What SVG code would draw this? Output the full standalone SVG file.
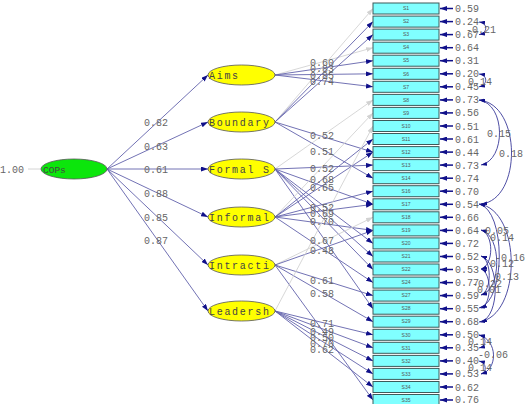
<svg xmlns="http://www.w3.org/2000/svg" width="529" height="404" viewBox="0 0 529 404">
<style>
.bg{fill:#fff}
.p{stroke:#6262ac;stroke-width:0.9;fill:none;marker-end:url(#ah)}
.g{stroke:#d2d2d2;stroke-width:0.9;fill:none;marker-end:url(#ahg)}
.e{stroke:#10108a;stroke-width:1.5;fill:none;marker-end:url(#ahe)}
.c{stroke:#3a3a9a;stroke-width:0.9;fill:none;marker-start:url(#ahc);marker-end:url(#ahc)}
.num{font-family:"Liberation Mono",monospace;font-size:10px;fill:#666}
.lat{fill:#ffff00;stroke:#555;stroke-width:0.8}
.cop{fill:#0ce60c;stroke:#555;stroke-width:0.8}
.lt{font-family:"Liberation Mono",monospace;font-size:10px;fill:#444;letter-spacing:1.7px}
.box{fill:#80ffff;stroke:#3d5a5a;stroke-width:1}
.bt{font-family:"Liberation Sans",sans-serif;font-size:5px;fill:#555;text-anchor:middle}
</style>
<defs>
<marker id="ah" markerUnits="userSpaceOnUse" markerWidth="7" markerHeight="5" refX="7" refY="2.5" orient="auto"><path d="M0,0 L7,2.5 L0,5 z" fill="#10108a"/></marker>
<marker id="ahg" markerUnits="userSpaceOnUse" markerWidth="7" markerHeight="5" refX="7" refY="2.5" orient="auto"><path d="M0,0 L7,2.5 L0,5 z" fill="#d2d2d2"/></marker>
<marker id="ahe" markerUnits="userSpaceOnUse" markerWidth="7" markerHeight="5" refX="7" refY="2.5" orient="auto"><path d="M0,0 L7,2.5 L0,5 z" fill="#10108a"/></marker>
<marker id="ahc" markerUnits="userSpaceOnUse" markerWidth="6" markerHeight="4" refX="6" refY="2" orient="auto-start-reverse"><path d="M0,0 L6,2 L0,4 z" fill="#10108a"/></marker>
</defs>
<rect class="bg" x="0" y="0" width="529" height="404"/>
<g id="connectors">
<line x1="28" y1="169" x2="41" y2="169" stroke="#cfcfcf" stroke-width="0.9"/>
<path class="p" d="M107,169 L208,75"/>
<path class="p" d="M107,169 L208,122"/>
<path class="p" d="M107,169 L208,169"/>
<path class="p" d="M107,169 L208,217"/>
<path class="p" d="M107,169 L208,265"/>
<path class="p" d="M107,169 L208,311"/>
<path class="g" d="M275,75 L373,47.7"/>
<path class="p" d="M275,75 L373,60.7"/>
<path class="p" d="M275,75 L373,73.8"/>
<path class="p" d="M275,75 L373,86.8"/>
<path class="g" d="M275,122 L373,8.5"/>
<path class="p" d="M275,122 L373,21.6"/>
<path class="p" d="M275,122 L373,34.6"/>
<path class="p" d="M275,122 L373,152.1"/>
<path class="p" d="M275,122 L373,178.2"/>
<path class="g" d="M275,169 L373,99.9"/>
<path class="p" d="M275,169 L373,165.1"/>
<path class="p" d="M275,169 L373,204.3"/>
<path class="p" d="M275,169 L373,243.4"/>
<path class="p" d="M275,169 L373,256.5"/>
<path class="p" d="M275,169 L373,269.5"/>
<path class="p" d="M275,169 L373,308.7"/>
<path class="g" d="M275,217 L373,112.9"/>
<path class="p" d="M275,217 L373,139"/>
<path class="p" d="M275,217 L373,152.1"/>
<path class="p" d="M275,217 L373,191.2"/>
<path class="p" d="M275,217 L373,204.3"/>
<path class="p" d="M275,217 L373,230.4"/>
<path class="p" d="M275,217 L373,282.6"/>
<path class="g" d="M275,265 L373,217.3"/>
<path class="p" d="M275,265 L373,230.4"/>
<path class="p" d="M275,265 L373,295.6"/>
<path class="p" d="M275,265 L373,321.7"/>
<path class="p" d="M275,265 L373,400"/>
<path class="g" d="M275,311 L373,126"/>
<path class="p" d="M275,311 L373,334.8"/>
<path class="p" d="M275,311 L373,347.8"/>
<path class="p" d="M275,311 L373,360.9"/>
<path class="p" d="M275,311 L373,373.9"/>
<path class="p" d="M275,311 L373,387"/>
<path class="e" d="M453,8.5 H440"/><path class="e" d="M453,21.6 H440"/><path class="e" d="M453,34.6 H440"/><path class="e" d="M453,47.7 H440"/><path class="e" d="M453,60.7 H440"/><path class="e" d="M453,73.8 H440"/><path class="e" d="M453,86.8 H440"/><path class="e" d="M453,99.9 H440"/><path class="e" d="M453,112.9 H440"/><path class="e" d="M453,126 H440"/><path class="e" d="M453,139 H440"/><path class="e" d="M453,152.1 H440"/><path class="e" d="M453,165.1 H440"/><path class="e" d="M453,178.2 H440"/><path class="e" d="M453,191.2 H440"/><path class="e" d="M453,204.3 H440"/><path class="e" d="M453,217.3 H440"/><path class="e" d="M453,230.4 H440"/><path class="e" d="M453,243.4 H440"/><path class="e" d="M453,256.5 H440"/><path class="e" d="M453,269.5 H440"/><path class="e" d="M453,282.6 H440"/><path class="e" d="M453,295.6 H440"/><path class="e" d="M453,308.7 H440"/><path class="e" d="M453,321.7 H440"/><path class="e" d="M453,334.8 H440"/><path class="e" d="M453,347.8 H440"/><path class="e" d="M453,360.9 H440"/><path class="e" d="M453,373.9 H440"/><path class="e" d="M453,387 H440"/><path class="e" d="M453,400 H440"/>
<path class="c" d="M479,22 C488,23 488,33 479,34.6"/>
<path class="c" d="M479,74 C488,75 488,85 479,86.8"/>
<path class="c" d="M479,100 C506,104 506,160 481,165"/>
<path class="c" d="M479,100 C522,104 522,200 481,204"/>
<path class="c" d="M479,204 C506,210 506,302 479,308"/>
<path class="c" d="M479,204 C522,210 522,316 479,322"/>
<path class="c" d="M481,230 C494,234 494,265 481,269"/>
<path class="c" d="M481,230 C502,235 502,290 481,295"/>
<path class="c" d="M481,256 C492,260 492,291 481,295"/>
<path class="c" d="M481,256 C500,262 500,316 481,322"/>
<path class="c" d="M481,269 C492,273 492,304 481,308"/>
<path class="c" d="M479,335 C487,337 487,346 479,348"/>
<path class="c" d="M479,335 C498,340 498,370 481,374"/>
<path class="c" d="M479,361 C487,363 487,372 481,374"/>
</g>
<g id="labels" class="num">
<text x="0" y="172.5">1.00</text>
<text x="144" y="125.5">0.82</text>
<text x="144" y="149.5">0.63</text>
<text x="144" y="172.5">0.61</text>
<text x="144" y="196.5">0.88</text>
<text x="144" y="220.5">0.85</text>
<text x="144" y="243.5">0.87</text>
<text x="310" y="65.5">0.60</text>
<text x="310" y="72">0.83</text>
<text x="310" y="78.5">0.85</text>
<text x="310" y="84.5">0.74</text>
<text x="310" y="138.5">0.52</text>
<text x="310" y="154.5">0.51</text>
<text x="310" y="171.5">0.52</text>
<text x="310" y="182.5">0.68</text>
<text x="310" y="190.5">0.65</text>
<text x="310" y="210.5">0.52</text>
<text x="310" y="216.5">0.69</text>
<text x="310" y="224.5">0.70</text>
<text x="310" y="243.5">0.67</text>
<text x="310" y="253.5">0.48</text>
<text x="310" y="283.5">0.61</text>
<text x="310" y="296.5">0.58</text>
<text x="310" y="326.5">0.71</text>
<text x="310" y="335">0.49</text>
<text x="310" y="340.5">0.50</text>
<text x="310" y="346.5">0.70</text>
<text x="310" y="353">0.62</text>
<text x="455" y="12">0.59</text>
<text x="455" y="25.1">0.24</text>
<text x="455" y="38.1">0.67</text>
<text x="455" y="51.2">0.64</text>
<text x="455" y="64.2">0.31</text>
<text x="455" y="77.3">0.20</text>
<text x="455" y="90.3">0.45</text>
<text x="455" y="103.4">0.73</text>
<text x="455" y="116.4">0.56</text>
<text x="455" y="129.5">0.51</text>
<text x="455" y="142.5">0.61</text>
<text x="455" y="155.6">0.44</text>
<text x="455" y="168.6">0.73</text>
<text x="455" y="181.7">0.74</text>
<text x="455" y="194.7">0.70</text>
<text x="455" y="207.8">0.54</text>
<text x="455" y="220.8">0.66</text>
<text x="455" y="233.9">0.64</text>
<text x="455" y="246.9">0.72</text>
<text x="455" y="260">0.52</text>
<text x="455" y="273">0.53</text>
<text x="455" y="286.1">0.77</text>
<text x="455" y="299.1">0.59</text>
<text x="455" y="312.2">0.55</text>
<text x="455" y="325.2">0.68</text>
<text x="455" y="338.3">0.50</text>
<text x="455" y="351.3">0.35</text>
<text x="455" y="364.4">0.40</text>
<text x="455" y="377.4">0.53</text>
<text x="455" y="390.5">0.62</text>
<text x="455" y="403">0.76</text>
<text x="466" y="32.5">-0.21</text>
<text x="468" y="84.5">0.14</text>
<text x="487" y="136.5">0.15</text>
<text x="499" y="156.5">0.18</text>
<text x="485" y="233.5">0.05</text>
<text x="490" y="240.5">0.14</text>
<text x="495" y="260.5">-0.16</text>
<text x="490" y="266.5">0.12</text>
<text x="495" y="279.5">0.13</text>
<text x="472" y="286.5">-0.22</text>
<text x="477" y="292.5">0.01</text>
<text x="468" y="344.5">0.14</text>
<text x="478" y="357.5">-0.06</text>
<text x="468" y="370.5">0.14</text>
</g>
<g id="COPs"><ellipse class="cop" cx="74" cy="169" rx="33" ry="10"/><text x="43" y="172.5" class="lt" style="letter-spacing:0;font-size:9.5px">COPs</text></g>
<g id="Aims"><ellipse class="lat" cx="241.5" cy="75" rx="33.5" ry="10"/><text x="209" y="78.5" class="lt">Aims</text></g>
<g id="Boundary"><ellipse class="lat" cx="241.5" cy="122" rx="33.5" ry="10"/><text x="209" y="125.5" class="lt">Boundary</text></g>
<g id="FormalS"><ellipse class="lat" cx="241.5" cy="169" rx="33.5" ry="10"/><text x="209" y="172.5" class="lt">Formal S</text></g>
<g id="Informal"><ellipse class="lat" cx="241.5" cy="217" rx="33.5" ry="10"/><text x="209" y="220.5" class="lt">Informal</text></g>
<g id="Intracti"><ellipse class="lat" cx="241.5" cy="265" rx="33.5" ry="10"/><text x="209" y="268.5" class="lt">Intracti</text></g>
<g id="Leadersh"><ellipse class="lat" cx="241.5" cy="311" rx="33.5" ry="10"/><text x="209" y="314.5" class="lt">Leadersh</text></g>
<g id="S1"><rect class="box" x="373" y="3" width="66" height="11"/><text class="bt" x="406" y="10.2">S1</text></g>
<g id="S2"><rect class="box" x="373" y="16.1" width="66" height="11"/><text class="bt" x="406" y="23.3">S2</text></g>
<g id="S3"><rect class="box" x="373" y="29.1" width="66" height="11"/><text class="bt" x="406" y="36.3">S3</text></g>
<g id="S4"><rect class="box" x="373" y="42.2" width="66" height="11"/><text class="bt" x="406" y="49.4">S4</text></g>
<g id="S5"><rect class="box" x="373" y="55.2" width="66" height="11"/><text class="bt" x="406" y="62.4">S5</text></g>
<g id="S6"><rect class="box" x="373" y="68.3" width="66" height="11"/><text class="bt" x="406" y="75.5">S6</text></g>
<g id="S7"><rect class="box" x="373" y="81.3" width="66" height="11"/><text class="bt" x="406" y="88.5">S7</text></g>
<g id="S8"><rect class="box" x="373" y="94.4" width="66" height="11"/><text class="bt" x="406" y="101.6">S8</text></g>
<g id="S9"><rect class="box" x="373" y="107.4" width="66" height="11"/><text class="bt" x="406" y="114.6">S9</text></g>
<g id="S10"><rect class="box" x="373" y="120.5" width="66" height="11"/><text class="bt" x="406" y="127.7">S10</text></g>
<g id="S11"><rect class="box" x="373" y="133.5" width="66" height="11"/><text class="bt" x="406" y="140.7">S11</text></g>
<g id="S12"><rect class="box" x="373" y="146.6" width="66" height="11"/><text class="bt" x="406" y="153.8">S12</text></g>
<g id="S13"><rect class="box" x="373" y="159.6" width="66" height="11"/><text class="bt" x="406" y="166.8">S13</text></g>
<g id="S14"><rect class="box" x="373" y="172.7" width="66" height="11"/><text class="bt" x="406" y="179.9">S14</text></g>
<g id="S16"><rect class="box" x="373" y="185.7" width="66" height="11"/><text class="bt" x="406" y="192.9">S16</text></g>
<g id="S17"><rect class="box" x="373" y="198.8" width="66" height="11"/><text class="bt" x="406" y="206">S17</text></g>
<g id="S18"><rect class="box" x="373" y="211.8" width="66" height="11"/><text class="bt" x="406" y="219">S18</text></g>
<g id="S19"><rect class="box" x="373" y="224.9" width="66" height="11"/><text class="bt" x="406" y="232.1">S19</text></g>
<g id="S20"><rect class="box" x="373" y="237.9" width="66" height="11"/><text class="bt" x="406" y="245.1">S20</text></g>
<g id="S21"><rect class="box" x="373" y="251" width="66" height="11"/><text class="bt" x="406" y="258.2">S21</text></g>
<g id="S22"><rect class="box" x="373" y="264" width="66" height="11"/><text class="bt" x="406" y="271.2">S22</text></g>
<g id="S24"><rect class="box" x="373" y="277.1" width="66" height="11"/><text class="bt" x="406" y="284.3">S24</text></g>
<g id="S27"><rect class="box" x="373" y="290.1" width="66" height="11"/><text class="bt" x="406" y="297.3">S27</text></g>
<g id="S28"><rect class="box" x="373" y="303.2" width="66" height="11"/><text class="bt" x="406" y="310.4">S28</text></g>
<g id="S29"><rect class="box" x="373" y="316.2" width="66" height="11"/><text class="bt" x="406" y="323.4">S29</text></g>
<g id="S30"><rect class="box" x="373" y="329.3" width="66" height="11"/><text class="bt" x="406" y="336.5">S30</text></g>
<g id="S31"><rect class="box" x="373" y="342.3" width="66" height="11"/><text class="bt" x="406" y="349.5">S31</text></g>
<g id="S32"><rect class="box" x="373" y="355.4" width="66" height="11"/><text class="bt" x="406" y="362.6">S32</text></g>
<g id="S33"><rect class="box" x="373" y="368.4" width="66" height="11"/><text class="bt" x="406" y="375.6">S33</text></g>
<g id="S34"><rect class="box" x="373" y="381.5" width="66" height="11"/><text class="bt" x="406" y="388.7">S34</text></g>
<g id="S35"><rect class="box" x="373" y="394.5" width="66" height="11"/><text class="bt" x="406" y="401.7">S35</text></g>
</svg>
